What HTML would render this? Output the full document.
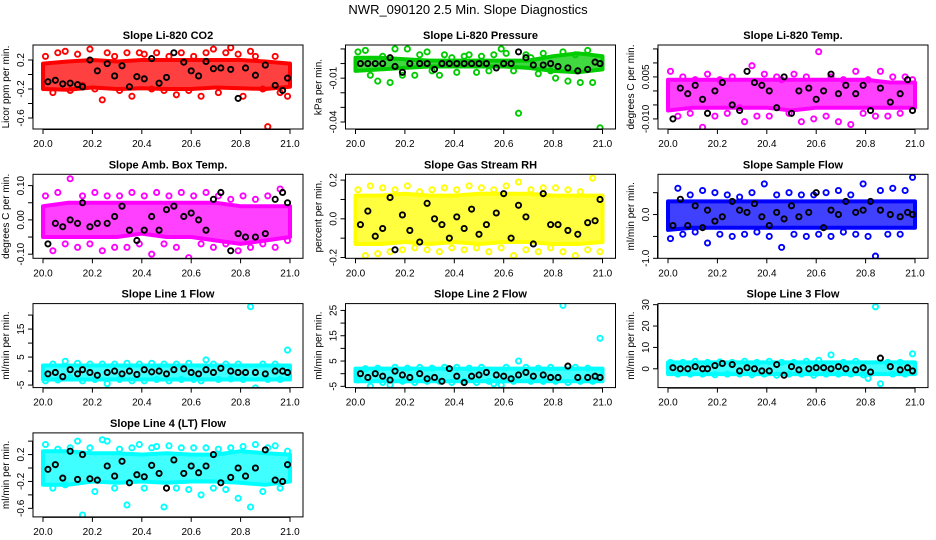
<!DOCTYPE html>
<html><head><meta charset="utf-8"><title>NWR_090120 2.5 Min. Slope Diagnostics</title>
<style>
html,body{margin:0;padding:0;background:#fff;}
svg{display:block;font-family:"Liberation Sans",Arial,sans-serif;}
</style></head>
<body>
<svg id="chart" width="936" height="540" viewBox="0 0 936 540" xmlns="http://www.w3.org/2000/svg">
<text x="468" y="14" text-anchor="middle" font-size="13">NWR_090120  2.5 Min. Slope Diagnostics</text>
</svg>
<script>
// shared time axis data
const xTicks = [20.0, 20.2, 20.4, 20.6, 20.8, 21.0];
const xTickLabels = ["20.0", "20.2", "20.4", "20.6", "20.8", "21.0"];
const bandX = [20.0, 20.1, 20.2, 20.3, 20.4, 20.5, 20.6, 20.7, 20.8, 20.9, 21.0];
const colorX = [20.01,20.04,20.06,20.09,20.11,20.14,20.16,20.19,20.21,20.24,20.26,20.29,20.31,20.34,20.36,20.39,20.41,20.44,20.46,20.49,20.51,20.54,20.56,20.59,20.61,20.64,20.66,20.69,20.71,20.74,20.76,20.79,20.81,20.84,20.86,20.89,20.91,20.94,20.96,20.99];
const blackX = [20.02,20.05,20.08,20.11,20.14,20.16,20.19,20.22,20.26,20.29,20.32,20.35,20.38,20.41,20.44,20.47,20.50,20.53,20.57,20.60,20.63,20.66,20.69,20.72,20.76,20.79,20.82,20.86,20.90,20.94,20.97,20.99];

// panel titles / units / colors
const titles = ["Slope Li-820 CO2","Slope Li-820 Pressure","Slope Li-820 Temp.","Slope Amb. Box Temp.","Slope Gas Stream RH","Slope Sample Flow","Slope Line 1 Flow","Slope Line 2 Flow","Slope Line 3 Flow","Slope Line 4 (LT) Flow"];
const yTitles = ["Licor ppm per min.","kPa per min.","degrees C per min.","degrees C per min.","percent per min.","ml/min per min.","ml/min per min.","ml/min per min.","ml/min per min.","ml/min per min."];
const colors = ["#ff0000","#00cc00","#ff00ff","#ff00ff","#ffff00","#0000ff","#00ffff","#00ffff","#00ffff","#00ffff"];

// y domains (bottom, top)
const yDomains = [[-0.752,0.407],[-0.0448,0.0127],[-0.0136,0.0164],[-0.112,0.133],[-0.204,0.23],[-1.0,0.92],[-5.9,24.1],[-5.5,27.7],[-8.8,30.5],[-0.7275,0.5225]];
const yTicks = [[-0.6,-0.4,-0.2,0,0.2],[-0.04,-0.03,-0.02,-0.01,0,0.01],[-0.010,-0.005,0,0.005,0.010,0.015],[-0.10,-0.05,0,0.05,0.10],[-0.2,-0.1,0,0.1,0.2],[-1.0,-0.5,0,0.5],[-5,0,5,10,15,20],[-5,0,5,10,15,20,25],[0,10,20,30],[-0.6,-0.4,-0.2,0,0.2,0.4]];
const yTickLabels = [["-0.6","","-0.2","","0.2"],["-0.04","","","-0.01","",""],["-0.010","","","0.005","",""],["-0.10","","0.00","","0.10"],["-0.2","","0.0","","0.2"],["-1.0","","0.0",""],["-5","","5","","15",""],["-5","","5","","15","","25"],["0","10","20","30"],["-0.6","","-0.2","","0.2",""]];

// dense-cloud envelopes (low / high per bandX)
const bandLow = [
 [-0.2,-0.21,-0.18,-0.2,-0.19,-0.2,-0.2,-0.18,-0.19,-0.2,-0.17],
 [-0.005,-0.004,-0.003,-0.002,-0.002,-0.002,-0.002,-0.003,-0.005,-0.006,-0.004],
 [-0.007,-0.006,-0.006,-0.006,-0.006,-0.007,-0.006,-0.006,-0.006,-0.006,-0.006],
 [-0.05,-0.05,-0.05,-0.05,-0.04,-0.05,-0.05,-0.06,-0.07,-0.06,-0.05],
 [-0.13,-0.13,-0.12,-0.13,-0.12,-0.13,-0.12,-0.12,-0.13,-0.13,-0.12],
 [-0.35,-0.3,-0.3,-0.3,-0.3,-0.3,-0.3,-0.3,-0.3,-0.3,-0.3],
 [-3,-3,-3,-3,-3,-3,-3,-3,-3,-3,-3],
 [-3,-3,-3,-3,-3,-3,-3,-3,-3,-3,-3],
 [-2.5,-2.5,-2.5,-2.5,-2.5,-2.5,-2.5,-2.5,-2.5,-2.5,-2.5],
 [-0.25,-0.25,-0.2,-0.22,-0.2,-0.22,-0.2,-0.2,-0.22,-0.25,-0.2]];
const bandHigh = [
 [0.15,0.18,0.2,0.18,0.2,0.2,0.2,0.2,0.2,0.18,0.15],
 [0.004,0.004,0.003,0.002,0.002,0.002,0.002,0.002,0.005,0.007,0.005],
 [0.004,0.004,0.004,0.004,0.004,0.004,0.004,0.004,0.004,0.003,0.003],
 [0.04,0.05,0.05,0.05,0.05,0.05,0.05,0.05,0.04,0.04,0.04],
 [0.12,0.12,0.13,0.12,0.12,0.13,0.13,0.13,0.12,0.12,0.12],
 [0.3,0.3,0.3,0.3,0.3,0.3,0.3,0.3,0.3,0.3,0.3],
 [2,2,2,2,2,2,2,2,2,2,2],
 [2,2,2,2,2,2,2,2,2,2,2],
 [3,3,3,3,3,3,3,3,3,3,3],
 [0.25,0.25,0.22,0.22,0.2,0.22,0.2,0.2,0.25,0.22,0.2]];

// scattered colored points (one per colorX)
const colorY = [
 [0.25,-0.25,0.3,0.32,-0.22,0.28,-0.15,0.35,-0.2,-0.35,0.3,0.25,-0.22,0.3,-0.3,0.3,0.28,-0.2,0.3,-0.22,0.25,-0.28,0.3,-0.22,0.25,-0.3,0.3,0.35,-0.25,0.3,0.37,0.28,-0.3,0.32,0.25,-0.2,-0.72,0.25,-0.25,-0.3],
 [0.008,0.009,-0.008,-0.012,0.005,-0.013,0.01,-0.008,0.01,-0.008,0.006,0.008,-0.005,-0.008,0.006,0.004,-0.006,0.005,0.006,-0.006,0.005,-0.005,0.006,0.01,0.007,-0.005,-0.034,0.006,0.004,-0.007,0.007,-0.005,-0.01,0.008,-0.012,0.006,-0.013,0.009,-0.013,-0.044],
 [0.007,-0.009,0.005,-0.008,0.004,-0.013,0.006,-0.009,0.004,-0.008,0.005,-0.006,-0.011,0.009,-0.009,0.006,-0.009,0.005,0.004,-0.008,0.006,-0.011,0.005,-0.01,0.014,-0.009,0.005,-0.011,0.004,-0.012,0.007,-0.008,0.004,-0.009,0.007,-0.009,0.005,-0.008,0.005,0.004],
 [0.07,-0.09,0.08,-0.07,0.12,-0.08,0.07,-0.07,0.08,-0.09,0.07,-0.08,0.07,-0.08,0.08,-0.07,0.07,-0.1,0.08,-0.07,0.07,-0.08,0.08,-0.11,0.07,-0.07,0.08,-0.08,0.07,-0.07,0.06,-0.09,0.07,-0.08,0.06,-0.07,0.07,-0.08,0.09,-0.06],
 [0.15,-0.19,0.17,-0.18,0.16,-0.17,0.15,-0.16,0.17,-0.15,0.14,-0.16,0.15,-0.17,0.16,-0.15,0.15,-0.16,0.17,-0.15,0.16,-0.17,0.15,-0.15,0.17,-0.19,0.19,-0.16,0.15,-0.17,0.16,-0.15,0.16,-0.17,0.15,-0.19,0.14,-0.16,0.21,-0.17],
 [-0.55,0.6,-0.45,0.45,-0.4,0.55,-0.65,0.5,-0.45,0.45,-0.5,0.4,-0.45,0.5,-0.4,0.7,-0.5,0.45,-0.75,0.5,-0.45,0.45,-0.5,0.45,-0.45,0.5,-0.5,0.55,-0.4,0.45,-0.45,0.7,-0.5,-0.95,0.55,-0.45,0.6,-0.45,0.55,0.85],
 [-3.5,2.5,-3.2,3.5,-2.5,2.8,-3.5,2.5,-3,2.5,-4.5,2.5,-3,2.8,-3.5,2.5,-3.5,2.8,-3,2.5,-3.5,2.5,-3,2.8,-3,-3.5,4,2.5,-3,2.5,-2.8,2.5,-3,23,-6,2.5,-3,2.5,-3,7.5],
 [-2.5,2,-5,2.2,-3.5,-4.5,2.5,-3,2.2,-3.5,2.5,-3,2.2,-3,2.5,-3.5,2.5,-3,2.2,-3.5,2.5,-3,-4,-4.5,2.5,-3,5,2.5,-3,2.2,-3,2.5,-3,27,-3.5,2.5,-3,2.2,-3,14],
 [3,-2.5,3,-2.5,3.5,-2.5,3,-2.8,3.2,-2.5,3,-2.5,3.5,-2.8,3,-2.5,3.5,-3,3,-2.5,3,-2.5,3.5,-3,4,-2.5,6.5,-2.5,3,-2.5,3.5,-2.8,-4.5,29,-7,3,-2.5,3,-2.5,7],
 [0.35,-0.3,0.28,-0.25,0.3,0.4,-0.7,0.3,-0.35,0.42,0.4,-0.3,0.28,-0.55,0.3,0.35,-0.3,0.3,0.32,-0.58,0.33,-0.3,0.3,-0.32,0.3,-0.4,0.3,-0.3,0.28,-0.32,0.3,-0.45,0.32,-0.58,0.35,-0.35,0.3,0.33,-0.3,0.25]];

// black points (one per blackX)
const blackY = [
 [-0.1,-0.08,-0.13,-0.12,-0.14,-0.17,0.2,0.05,0.15,-0.02,0.12,-0.17,-0.03,-0.06,0.22,-0.12,-0.04,0.3,0.17,0.05,-0.02,0.18,0.08,0.09,0.07,-0.33,0.09,-0.01,0.13,-0.15,-0.22,-0.05],
 [0.0,0.0,0.0,0.0,0.004,-0.002,-0.006,0.0,0.0,0.0,-0.004,0.0,0.0,0.0,0.0,0.0,0.0,0.0,-0.003,0.0,0.0,0.008,0.004,-0.001,-0.001,0.0,-0.002,-0.003,-0.005,-0.004,0.001,0.0],
 [-0.01,0.001,-0.001,0.002,-0.003,-0.008,0.0,0.003,-0.005,-0.007,0.007,0.003,0.002,0.0,-0.006,0.005,-0.008,0.0,0.001,-0.003,0.0,0.006,-0.001,0.002,-0.001,0.002,-0.007,0.001,-0.004,-0.001,0.004,-0.007],
 [-0.07,-0.01,-0.02,0.0,-0.01,0.05,-0.02,-0.01,-0.01,0.01,0.04,-0.03,-0.06,-0.03,0.01,-0.03,0.03,0.04,0.01,0.02,0.0,-0.03,0.06,0.08,-0.09,-0.04,-0.05,-0.05,-0.04,0.06,0.08,0.05],
 [-0.03,0.04,-0.09,-0.05,0.11,-0.16,0.02,-0.06,-0.12,0.08,0.0,-0.03,-0.1,0.01,-0.05,0.05,-0.08,-0.03,0.03,0.13,-0.1,0.07,0.01,-0.13,0.13,-0.03,-0.03,-0.06,-0.08,-0.02,-0.01,0.1],
 [-0.25,0.35,-0.25,0.2,-0.3,0.1,-0.15,-0.05,0.3,0.1,0.05,0.25,-0.05,-0.25,0.05,-0.1,0.2,-0.05,0.05,0.5,-0.3,0.1,0.0,0.3,0.05,0.1,0.3,0.1,0.0,-0.05,0.05,0.0],
 [-1,-0.5,-2,0.5,-1,0.5,-0.5,-1.5,-0.5,0,-1,0,-1.2,0.5,-0.3,0,-1,0.5,0.8,-0.5,-1,0.5,-0.5,1,0,-0.5,-0.5,-0.5,-1,0,0,-0.5],
 [0,-1.5,0,-1,-2.5,1,-0.5,-1.5,0,-2,-1.5,-3,2,-1,-3.5,-1,-0.5,0.5,-0.5,-1,-2,-0.5,0.5,-1,-0.5,-1.5,-1.5,3,-1.5,-1.5,-1,-1.5],
 [0.5,0,0,1,0,0,1.5,2.5,2,-1,0.5,0,-1,-1,2,-3,1,-0.5,0,0.5,0.5,0,1,0,-0.5,0.5,-1.5,5,1,-0.5,0.5,-1],
 [-0.02,0.05,-0.15,0.25,-0.17,0.2,-0.16,-0.18,0.03,-0.12,0.1,-0.22,-0.1,-0.13,0.04,-0.08,-0.3,0.12,-0.08,0.03,-0.07,0.03,0.2,-0.22,-0.14,0.0,-0.12,0.0,0.27,-0.18,-0.2,0.05]];

const NS = "http://www.w3.org/2000/svg";
const svg = document.getElementById("chart");
function mk(tag, attrs, parent) {
  const e = document.createElementNS(NS, tag);
  for (const k in attrs) e.setAttribute(k, attrs[k]);
  (parent || svg).appendChild(e);
  return e;
}

for (let p = 0; p < 10; p++) {
  const col = p % 3, row = Math.floor(p / 3);
  const x20 = 43 + 312.5 * col;
  const boxL = x20 - 10, boxW = 270;
  const top = 45 + 129.3 * row, H = 84, bot = top + H;
  const [d0, d1] = yDomains[p];
  const sx = v => x20 + (v - 20.0) * 247;
  const sy = v => bot - (v - d0) / (d1 - d0) * H;

  const g = mk("g", {});
  
  

  const clipId = "clip" + p;
  const cp = mk("clipPath", { id: clipId }, g);
  mk("rect", { x: boxL, y: top, width: boxW, height: H }, cp);

  const t = mk("text", { x: boxL + boxW / 2, y: top - 6, "text-anchor": "middle", "font-size": "11", "font-weight": "bold" }, g);
  t.textContent = titles[p];
  
  

  const yt = mk("text", { x: 0, y: 0, "text-anchor": "middle", "font-size": "10", transform: `translate(${boxL - 24},${top + H / 2}) rotate(-90)` }, g);
  yt.textContent = yTitles[p];
  
  

  const plot = mk("g", { "clip-path": `url(#${clipId})` }, g);
  
  
  const c = colors[p];

  let d = "";
  bandX.forEach((x, i) => { d += (i ? "L" : "M") + sx(x).toFixed(1) + "," + sy(bandHigh[p][i]).toFixed(1); });
  for (let i = bandX.length - 1; i >= 0; i--) d += "L" + sx(bandX[i]).toFixed(1) + "," + sy(bandLow[p][i]).toFixed(1);
  const band = mk("path", { d: d + "Z", fill: c, "fill-opacity": "0.75", stroke: c, "stroke-width": "4", "stroke-linejoin": "round" }, plot);
  
  

  colorX.forEach((x, i) => {
    const pt = mk("circle", { cx: sx(x), cy: sy(colorY[p][i]), r: 2.6, fill: "none", stroke: c, "stroke-width": "1.9" }, plot);
    
    
  });
  blackX.forEach((x, i) => {
    const pt = mk("circle", { cx: sx(x), cy: sy(blackY[p][i]), r: 2.6, fill: "none", stroke: "#000", "stroke-width": "1.9" }, plot);
    
    
  });

  const box = mk("rect", { x: boxL, y: top, width: boxW, height: H, fill: "none", stroke: "#000", "stroke-width": "1" }, g);
  
  

  const xa = mk("g", {}, g);
  
  
  mk("line", { x1: sx(20.0), x2: sx(21.0), y1: bot + 0.5, y2: bot + 0.5, stroke: "#000" }, xa);
  xTicks.forEach((v, i) => {
    mk("line", { x1: sx(v), x2: sx(v), y1: bot, y2: bot + 5, stroke: "#000" }, xa);
    const lt = mk("text", { x: sx(v), y: bot + 18, "text-anchor": "middle", "font-size": "10" }, xa);
    lt.textContent = xTickLabels[i];
    
    
  });

  const ya = mk("g", {}, g);
  
  
  const tk = yTicks[p];
  mk("line", { x1: boxL - 0.5, x2: boxL - 0.5, y1: sy(tk[0]), y2: sy(tk[tk.length - 1]), stroke: "#000" }, ya);
  tk.forEach((v, i) => {
    const y = sy(v);
    mk("line", { x1: boxL - 5, x2: boxL, y1: y, y2: y, stroke: "#000" }, ya);
    if (yTickLabels[p][i]) {
      const lt = mk("text", { x: 0, y: 0, "text-anchor": "middle", "font-size": "10", transform: `translate(${boxL - 9},${y}) rotate(-90)` }, ya);
      lt.textContent = yTickLabels[p][i];
      
      
    }
  });
}
</script>
</body></html>
